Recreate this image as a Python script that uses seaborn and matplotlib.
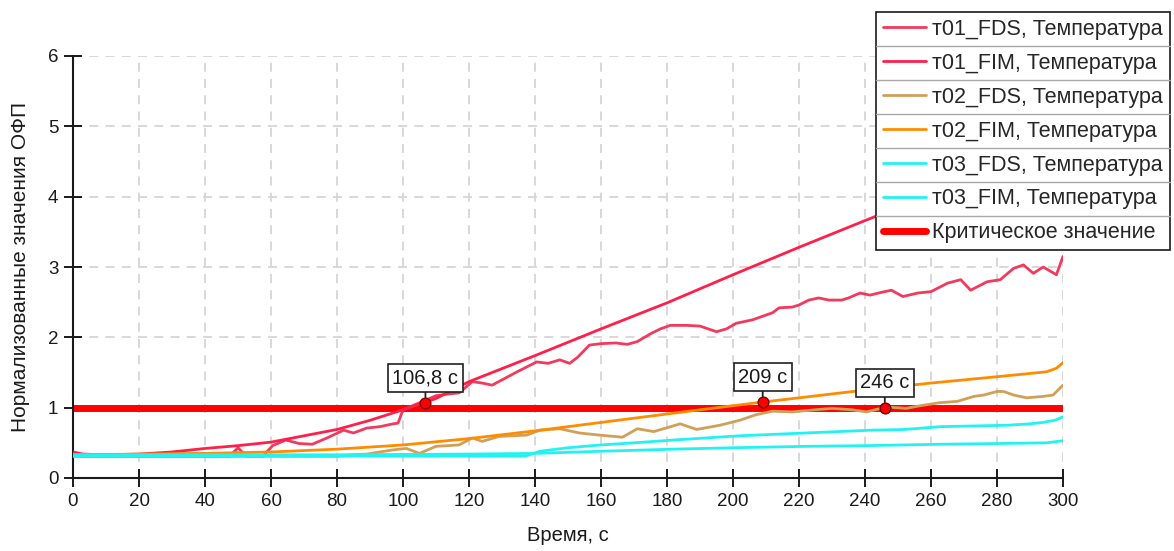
# Нормализованные значения ОФП (температура) по трём точкам, FDS vs FIM
import matplotlib
matplotlib.use("Agg")
import matplotlib.pyplot as plt
from matplotlib.lines import Line2D
import seaborn as sns

# t01, FDS (noisy)
t01_fds_t = [0, 3, 10, 20, 30, 40, 47.5, 50, 52.5, 57.5, 60.5, 64.5, 68.5, 72.5, 77, 82, 85, 89, 93, 97,
             98.5, 100, 103, 107, 110, 113, 117, 121, 124, 127, 131, 135, 140.5, 144, 147.5, 150.5, 153,
             156.5, 160, 164.5, 168, 171, 175, 178, 181, 186, 190, 195, 198, 201, 206, 212, 214, 218, 220,
             223, 226, 229, 233, 235, 238.5, 241.5, 245, 248, 251.5, 256, 260, 265, 269, 272, 277, 281,
             285, 288, 291, 294, 298, 300]
t01_fds_v = [0.32, 0.31, 0.31, 0.31, 0.31, 0.31, 0.31, 0.43, 0.31, 0.31, 0.46, 0.54, 0.49, 0.48, 0.57, 0.68,
             0.64, 0.71, 0.73, 0.77, 0.78, 0.97, 1.03, 1.11, 1.17, 1.19, 1.21, 1.37, 1.35, 1.32, 1.42, 1.52,
             1.65, 1.63, 1.68, 1.63, 1.72, 1.89, 1.91, 1.92, 1.90, 1.94, 2.05, 2.12, 2.17, 2.17, 2.16, 2.08,
             2.12, 2.20, 2.25, 2.35, 2.42, 2.43, 2.46, 2.53, 2.56, 2.53, 2.53, 2.56, 2.63, 2.60, 2.64, 2.67,
             2.58, 2.63, 2.65, 2.77, 2.82, 2.67, 2.79, 2.82, 2.98, 3.03, 2.91, 3.00, 2.89, 3.15]

# t01, FIM (smooth)
t01_fim_t = [0, 3, 10, 20, 30, 40, 50, 60, 70, 80, 90, 100, 110, 120, 140, 160, 180, 200, 220, 240, 260, 280, 300]
t01_fim_v = [0.37, 0.34, 0.33, 0.34, 0.37, 0.42, 0.46, 0.51, 0.60, 0.69, 0.82, 0.97, 1.13, 1.37, 1.74, 2.12,
             2.49, 2.89, 3.28, 3.66, 4.03, 4.40, 4.77]

# t02, FDS (noisy)
t02_fds_t = [0, 20, 40, 60, 80, 85, 89, 93, 97, 101, 105, 110, 117, 121, 124, 129, 133, 137.5, 141.5, 147.5,
             153.5, 159.5, 166.5, 171, 176, 184, 189, 196, 202, 207, 212, 218, 225, 230, 236, 240.5, 246.5,
             252.5, 257, 262.5, 268, 273, 276, 280, 282, 285, 289, 294, 297, 300]
t02_fds_v = [0.31, 0.31, 0.31, 0.31, 0.31, 0.33, 0.34, 0.37, 0.40, 0.42, 0.35, 0.45, 0.47, 0.57, 0.52, 0.59,
             0.60, 0.61, 0.68, 0.70, 0.64, 0.61, 0.58, 0.70, 0.66, 0.77, 0.69, 0.75, 0.82, 0.90, 0.95, 0.94,
             0.97, 0.99, 0.97, 0.94, 1.01, 0.99, 1.03, 1.07, 1.09, 1.16, 1.18, 1.23, 1.23, 1.18, 1.14, 1.16,
             1.18, 1.32]

# t02, FIM (smooth)
t02_fim_t = [0, 20, 40, 60, 80, 100, 120, 140, 160, 180, 190, 209, 220, 240, 260, 280, 295, 298, 300]
t02_fim_v = [0.33, 0.34, 0.35, 0.37, 0.41, 0.47, 0.56, 0.67, 0.79, 0.91, 0.97, 1.08, 1.14, 1.25, 1.35, 1.44,
             1.51, 1.56, 1.64]

# t03, FDS
t03_fds_t = [0, 20, 40, 60, 80, 100, 120, 137, 141.5, 150, 160, 170, 182, 192, 202, 212, 222, 232, 242, 252,
             263, 273, 283, 290, 294, 297.5, 300]
t03_fds_v = [0.31, 0.31, 0.31, 0.31, 0.31, 0.31, 0.31, 0.31, 0.38, 0.43, 0.47, 0.50, 0.54, 0.57, 0.60, 0.62,
             0.64, 0.66, 0.68, 0.69, 0.73, 0.74, 0.75, 0.77, 0.79, 0.82, 0.87]

# t03, FIM
t03_fim_t = [0, 40, 80, 120, 140, 160, 182, 200, 222, 240, 263, 280, 295, 300]
t03_fim_v = [0.33, 0.33, 0.33, 0.34, 0.35, 0.38, 0.41, 0.43, 0.45, 0.46, 0.48, 0.49, 0.50, 0.53]

crit_t = [0, 300]
crit_v = [1, 1]

mark_t = [106.8, 209, 246]
mark_v = [1.07, 1.08, 1.0]
mark_labels = ["106,8 с", "209 с", "246 с"]

sns.set_style("ticks")
plt.rcParams['font.family'] = ['Liberation Sans', 'DejaVu Sans']

fig = plt.figure(figsize=(11.74, 5.51), dpi=100)
ax = fig.add_axes([73 / 1174, 1 - 478 / 551, 990 / 1174, 422 / 551])

red = '#FF1F4B'
sns.lineplot(x=t01_fds_t, y=t01_fds_v, color='#F2395E', lw=2, label='т01_FDS, Температура', ax=ax, zorder=3)
sns.lineplot(x=t01_fim_t, y=t01_fim_v, color=red, lw=2, label='т01_FIM, Температура', ax=ax, zorder=3)
sns.lineplot(x=t02_fds_t, y=t02_fds_v, color='#D0A058', lw=2, label='т02_FDS, Температура', ax=ax, zorder=3)
sns.lineplot(x=t02_fim_t, y=t02_fim_v, color='#FF8C00', lw=2, label='т02_FIM, Температура', ax=ax, zorder=3)
sns.lineplot(x=t03_fds_t, y=t03_fds_v, color='#22F2F2', lw=2, label='т03_FDS, Температура', ax=ax, zorder=3)
sns.lineplot(x=t03_fim_t, y=t03_fim_v, color='#22F2F2', lw=2, label='т03_FIM, Температура', ax=ax, zorder=3)
sns.lineplot(x=crit_t, y=crit_v, color='#FF0000', lw=5, label='Критическое значение', ax=ax, zorder=2)

sns.scatterplot(x=mark_t, y=mark_v, color='#FF0000', edgecolor='#7A0000', linewidth=1, s=60,
                ax=ax, zorder=6, legend=False)
for mt, mv, lab in zip(mark_t, mark_v, mark_labels):
    ax.annotate(lab, xy=(mt, mv), xytext=(0, 18), textcoords='offset points',
                ha='center', va='center', fontsize=14.5, color='#1A1A1A', zorder=7,
                bbox=dict(boxstyle='square,pad=0.22', fc='white', ec='#202020', lw=1.2),
                arrowprops=dict(arrowstyle='-', color='#202020', lw=1.3, shrinkA=0, shrinkB=4))

ax.set_xlim(0, 300)
ax.set_ylim(0, 6)
ax.set_xticks(range(0, 301, 20))
ax.set_yticks(range(0, 7))
ax.grid(True, color='#D6D6D6', linestyle=(0, (5, 4)), linewidth=1.3)
for s in ['top', 'right']:
    ax.spines[s].set_visible(False)
for s in ['left', 'bottom']:
    ax.spines[s].set_color('#1A1A1A')
    ax.spines[s].set_linewidth(1.5)
ax.tick_params(direction='inout', length=13, width=1.4, labelsize=13.5, colors='#1A1A1A', pad=4)
ax.set_xlabel('Время, с', fontsize=14.5, color='#1A1A1A', labelpad=12)
ax.set_ylabel('Нормализованные значения ОФП', fontsize=15, color='#1A1A1A', labelpad=13)

leg = ax.legend(loc='upper right', bbox_to_anchor=(1170 / 1174, 1 - 12 / 551),
                bbox_transform=fig.transFigure, fontsize=15.5, frameon=True, fancybox=False,
                framealpha=1, edgecolor='#1A1A1A', handlelength=2.0, handletextpad=0.3,
                labelspacing=0.6, borderpad=0.32, borderaxespad=0)
leg.get_frame().set_linewidth(1.2)
leg.set_zorder(10)

# separators between legend rows
fig.canvas.draw()
renderer = fig.canvas.get_renderer()
fb = leg.get_frame().get_window_extent(renderer)
texts = leg.get_texts()
inv = fig.transFigure.inverted()
for a, b in zip(texts[:-1], texts[1:]):
    ea = a.get_window_extent(renderer)
    eb = b.get_window_extent(renderer)
    ym = (ea.y0 + eb.y1) / 2
    (x0, y0), (x1, _) = inv.transform([(fb.x0, ym), (fb.x1, ym)])
    fig.add_artist(Line2D([x0, x1], [y0, y0], color='#A8A8A8', lw=1, zorder=20))

fig.savefig('out.png', dpi=100)
